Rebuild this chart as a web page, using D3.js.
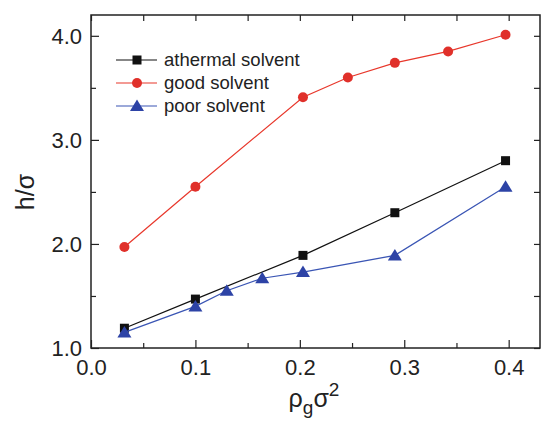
<!DOCTYPE html>
<html>
<head>
<meta charset="utf-8">
<script src="https://cdn.jsdelivr.net/npm/d3@7"></script>
<style>
  body { margin: 0; background: #fff; }
  text { font-family: Arial, "Liberation Sans", sans-serif; fill: #222; }
</style>
</head>
<body>
<div id="chart"></div>
<script>
// values
const athermalX = [0.032, 0.100, 0.203, 0.291, 0.397];
const athermalY = [1.19, 1.47, 1.89, 2.30, 2.80];
const goodX = [0.032, 0.100, 0.203, 0.246, 0.291, 0.342, 0.397];
const goodY = [1.97, 2.55, 3.41, 3.60, 3.74, 3.85, 4.01];
const poorX = [0.032, 0.100, 0.130, 0.164, 0.203, 0.291, 0.397];
const poorY = [1.15, 1.40, 1.55, 1.67, 1.73, 1.89, 2.55];
const seriesNames = ['athermal solvent', 'good solvent', 'poor solvent'];
const xTicks = [0.0, 0.1, 0.2, 0.3, 0.4];
const yTicks = [1.0, 2.0, 3.0, 4.0];

const width = 541, height = 421;
const margin = {left: 91, top: 15, right: 1, bottom: 73};

const svg = d3.select('#chart').append('svg')
  .attr('width', width).attr('height', height);

const x = d3.scaleLinear().domain([0, 0.43]).range([margin.left, width - margin.right]);
const y = d3.scaleLinear().domain([1.0, 4.2]).range([height - margin.bottom, margin.top]);

const series = [
  {name: seriesNames[0], xs: athermalX, ys: athermalY, color: '#111111', fill: '#111111', shape: 'square'},
  {name: seriesNames[1], xs: goodX, ys: goodY, color: '#e8372b', fill: '#e0302a', shape: 'circle'},
  {name: seriesNames[2], xs: poorX, ys: poorY, color: '#3a55b4', fill: '#2d43a6', shape: 'triangle'}
];

function marker(g, s, cx, cy) {
  if (s.shape == 'square') {
    g.append('rect').attr('x', cx - 4.5).attr('y', cy - 4.5)
      .attr('width', 9).attr('height', 9).attr('fill', s.fill);
  } else if (s.shape == 'circle') {
    g.append('circle').attr('cx', cx).attr('cy', cy).attr('r', 5).attr('fill', s.fill);
  } else {
    g.append('path')
      .attr('d', 'M' + cx + ',' + (cy - 6.5) + 'L' + (cx + 7) + ',' + (cy + 5) + 'L' + (cx - 7) + ',' + (cy + 5) + 'Z')
      .attr('fill', s.fill);
  }
}

// data lines and markers
const line = d3.line().x(d => x(d[0])).y(d => y(d[1]));
series.forEach(s => {
  const pts = s.xs.map((v, i) => [v, s.ys[i]]);
  svg.append('path').datum(pts).attr('d', line)
    .attr('fill', 'none').attr('stroke', s.color).attr('stroke-width', 1.2);
  const g = svg.append('g');
  pts.forEach(p => marker(g, s, x(p[0]), y(p[1])));
});

// axes: ticks pointing inward on all four sides
const x0 = margin.left, x1 = width - margin.right;
const y0 = height - margin.bottom, y1 = margin.top;
const axisColor = '#222';
const xMinor = d3.range(0.05, 0.43, 0.1);
const yMinor = d3.range(1.5, 4.2, 1.0);

const axBottom = svg.append('g').attr('transform', 'translate(0,' + y0 + ')')
  .call(d3.axisBottom(x).tickValues(xTicks).tickSize(-8).tickPadding(11).tickFormat(d3.format('.1f')));
const axBottomMinor = svg.append('g').attr('transform', 'translate(0,' + y0 + ')')
  .call(d3.axisBottom(x).tickValues(xMinor).tickSize(-5).tickFormat(''));
const axTop = svg.append('g').attr('transform', 'translate(0,' + y1 + ')')
  .call(d3.axisTop(x).tickValues(xTicks.concat(xMinor)).tickSize(-6).tickFormat(''));

const axLeft = svg.append('g').attr('transform', 'translate(' + x0 + ',0)')
  .call(d3.axisLeft(y).tickValues(yTicks).tickSize(-8).tickPadding(9).tickFormat(d3.format('.1f')));
const axLeftMinor = svg.append('g').attr('transform', 'translate(' + x0 + ',0)')
  .call(d3.axisLeft(y).tickValues(yMinor).tickSize(-5).tickFormat(''));
const axRight = svg.append('g').attr('transform', 'translate(' + x1 + ',0)')
  .call(d3.axisRight(y).tickValues(yTicks.concat(yMinor)).tickSize(-6).tickFormat(''));

[axBottom, axBottomMinor, axTop, axLeft, axLeftMinor, axRight].forEach(a => {
  a.select('.domain').remove();
  a.selectAll('line').attr('stroke', axisColor).attr('stroke-width', 1.2);
  a.selectAll('text').style('font-size', '22px').attr('fill', '#222');
});
axBottom.selectAll('text').attr('dy', '0.71em');
axLeft.selectAll('text').attr('dy', '0.36em');

svg.append('rect').attr('x', x0).attr('y', y1)
  .attr('width', x1 - x0).attr('height', y0 - y1)
  .attr('fill', 'none').attr('stroke', axisColor).attr('stroke-width', 1.5);

// axis titles
svg.append('text').attr('transform', 'translate(34,192) rotate(-90)')
  .attr('text-anchor', 'middle').style('font-size', '25px').text('h/σ');

const xl = svg.append('text').attr('x', 314).attr('y', 407)
  .attr('text-anchor', 'middle').style('font-size', '25px');
xl.append('tspan').text('ρ');
xl.append('tspan').attr('dy', 7).style('font-size', '19px').text('g');
xl.append('tspan').attr('dy', -7).text('σ');
xl.append('tspan').attr('dy', -11).style('font-size', '19px').text('2');

// legend
const legend = svg.append('g');
series.forEach((s, i) => {
  const ly = 60 + i * 23;
  legend.append('line').attr('x1', 116).attr('x2', 157).attr('y1', ly).attr('y2', ly)
    .attr('stroke', s.color).attr('stroke-width', 1.2);
  marker(legend, s, 137, ly);
  legend.append('text').attr('x', 164).attr('y', ly).attr('dy', '0.35em')
    .style('font-size', '18.5px').text(s.name);
});
</script>
</body>
</html>
